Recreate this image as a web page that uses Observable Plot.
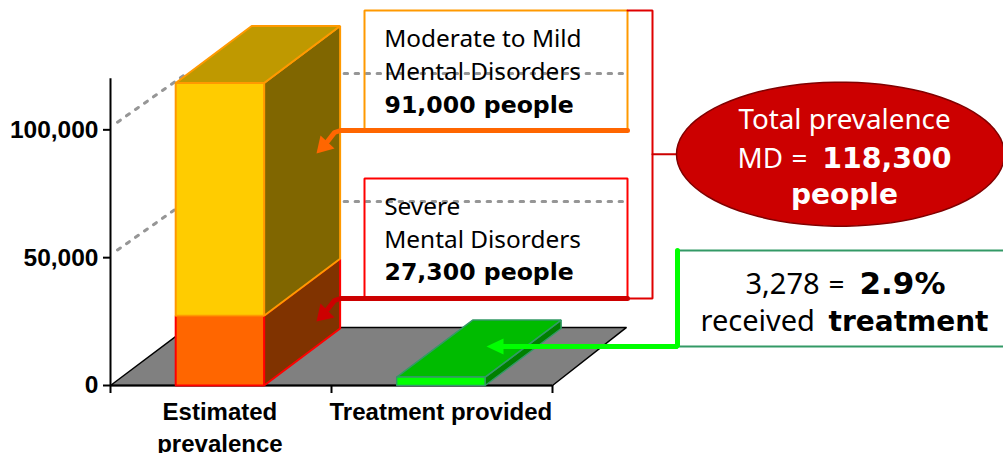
<!DOCTYPE html>
<html>
<head>
<meta charset="utf-8">
<script src="https://cdn.jsdelivr.net/npm/d3@7"></script>
<script src="https://cdn.jsdelivr.net/npm/@observablehq/plot@0.6"></script>
<style>html,body{margin:0;padding:0;background:#fff}svg{display:block}</style>
</head>
<body>
<div id="chart"></div>
<script>
const categories = ["Estimated\nprevalence", "Treatment provided"];
const severeValues = [27300, 0];
const moderateValues = [91000, 0];
const treatedValues = [0, 3278];
const yTicks = [0, 50000, 100000];
const gridValues = [50000, 100000];

const W = 1003, H = 453;
const BAR = 0.2, DX = 0.344, DY = 22300, SHIFT = -0.005;
const SANS = "'Noto Sans'", BOLD = "'DejaVu Sans'", AXIS = "'Liberation Sans'";

// annotation layout: page position -> chart units
const ux = d3.scaleLinear([110, 552], [-0.5, 1.5]);
const uy = d3.scaleLinear([385, 78.2], [0, 120000]);
const P = (px, py) => ({x: ux(px), y: uy(py)});
const path = (pts) => pts.map(([a, b]) => P(a, b));
const xy = {x: "x", y: "y"};

// prism faces
const front = (c, y0, y1) => [[c-BAR,y0],[c+BAR,y0],[c+BAR,y1],[c-BAR,y1]].map(([x,y]) => ({x,y}));
const side = (c, y0, y1) => [[c+BAR,y0],[c+BAR+DX,y0+DY],[c+BAR+DX,y1+DY],[c+BAR,y1]].map(([x,y]) => ({x,y}));
const top_ = (c, y1) => [[c-BAR,y1],[c+BAR,y1],[c+BAR+DX,y1+DY],[c-BAR+DX,y1+DY]].map(([x,y]) => ({x,y}));
const poly = (pts, fill, stroke, sw = 2) => Plot.line(pts, {...xy, fill, stroke, strokeWidth: sw, curve: "linear-closed", strokeLinejoin: "miter"});
const stroke = (pts, color, sw, extra = {}) => Plot.line(pts, {...xy, stroke: color, strokeWidth: sw, strokeLinejoin: "miter", ...extra});

const label = (text, px, py, size, family, opts = {}) => Plot.text([{...P(px, py), text}], {
  ...xy, text: "text", fontSize: size, fontFamily: family, lineAnchor: "bottom", textAnchor: "start", fill: "#000", ...opts
});

const s0 = severeValues[0], s1 = s0 + moderateValues[0], t = treatedValues[1];
const c0 = 0 + SHIFT, c1 = 1 + SHIFT;

const ellipse = d3.range(90).map(i => {
  const a = i / 90 * 2 * Math.PI;
  return P(840 + 164 * Math.cos(a), 153.7 + 72 * Math.sin(a));
});

const plot = Plot.plot({
  width: W, height: H,
  marginLeft: 110, marginRight: W - 552, marginTop: 78.2, marginBottom: H - 385,
  x: {domain: [-0.5, 1.5], axis: null},
  y: {domain: [0, 120000], axis: null},
  style: {background: "#fff", overflow: "visible"},
  marks: [
    // grid on the wall
    ...gridValues.map(v => stroke([{x: ux(117), y: v + 3000}, {x: -0.5 + DX, y: v + DY - 300}, {x: ux(622), y: v + DY - 300}], "#969696", 3, {strokeDasharray: "3.5 7.5"})),
    // floor
    poly([{x:-0.5,y:0},{x:1.5,y:0},{x:1.5+0.335,y:22700},{x:-0.5+0.35,y:22700}], "#808080", "#000", 1.5),
    // axes
    Plot.axisY({ticks: yTicks, tickFormat: d3.format(","), tickSize: 7, tickPadding: 5, label: null, fontSize: 24.5, fontFamily: AXIS, fontWeight: "bold", strokeWidth: 2, stroke: "#000"}),
    Plot.axisX({ticks: [-0.5, 0.5, 1.5], tickFormat: () => "", tickSize: 8, label: null, strokeWidth: 2}),
    Plot.ruleX([-0.5], {y1: 0, y2: 120000, stroke: "#000", strokeWidth: 2}),
    Plot.ruleY([0], {stroke: "#000", strokeWidth: 2}),
    Plot.text(categories, {x: (d, i) => i + SHIFT, y: 0, text: d => d, dy: 11, lineAnchor: "top", lineHeight: 1.36, fontSize: 24, fontFamily: AXIS, fontWeight: "bold", fill: "#000"}),
    // estimated prevalence prism
    poly(side(c0, 0, s0), "#803300", "#FF0000"),
    poly(side(c0, s0, s1), "#806600", "#FF9900"),
    poly(top_(c0, s1), "#BF9900", "#FF9900"),
    poly(front(c0, 0, s0), "#FF6600", "#FF0000"),
    poly(front(c0, s0, s1), "#FFCC00", "#FF9900"),
    // treatment prism
    poly(side(c1, 0, t), "#008000", "#339966", 1.5),
    poly(top_(c1, t), "#00BB00", "#339966", 1.5),
    poly(front(c1, 0, t), "#00FF00", "#339966", 1.5),
    // callout boxes
    stroke(path([[364,130],[364,10],[627,10],[627,130]]), "#FF9900", 2),
    stroke(path([[364,298],[364,178],[627,178],[627,298]]), "#FF0000", 2),
    stroke(path([[627,10],[652,10],[652,298],[627,298]]), "#E00000", 2),
    stroke(path([[652,153.7],[678,153.7]]), "#CC0000", 2),
    stroke(path([[1003,250],[678,250]]), "#339966", 2),
    stroke(path([[1003,346],[678,346]]), "#339966", 2),
    stroke(path([[627,130],[340,130],[334,132],[327,141]]), "#FF6600", 5),
    poly(path([[316,153],[320,135],[334,148]]), "#FF6600", "none", 0),
    stroke(path([[627,298],[340,298],[334,300],[327,309]]), "#CC0000", 5),
    poly(path([[316,321],[320,303],[334,317]]), "#CC0000", "none", 0),
    stroke(path([[677,250],[677,346],[500,346]]), "#00FF00", 5),
    poly(path([[486,346],[503,338],[503,354]]), "#00FF00", "none", 0),
    // total ellipse
    poly(ellipse, "#CC0000", "#800000", 1.5),
    // text
    label("Moderate to Mild", 383.7, 46, 24.4, SANS),
    label("Mental Disorders", 383.7, 79, 24.4, SANS),
    label("91,000 people", 384, 112, 23.6, BOLD, {fontWeight: "bold"}),
    label("Severe", 383.7, 214, 24.4, SANS),
    label("Mental Disorders", 383.7, 247, 24.4, SANS),
    label("27,300 people", 384, 279, 23.6, BOLD, {fontWeight: "bold"}),
    label("Total prevalence", 844, 128, 27.8, SANS, {fill: "#fff", textAnchor: "middle"}),
    label("MD", 737, 167, 27.8, SANS, {fill: "#fff"}),
    label("=", 807, 167, 27.8, SANS, {fill: "#fff", textAnchor: "end"}),
    label("118,300", 951, 167, 28.4, BOLD, {fill: "#fff", fontWeight: "bold", textAnchor: "end"}),
    label("people", 844, 203, 28, BOLD, {fill: "#fff", textAnchor: "middle", fontWeight: "bold"}),
    label("3,278", 745, 293, 29, SANS),
    label("=", 844, 293, 28, SANS, {textAnchor: "end"}),
    label("2.9%", 945, 293, 31, BOLD, {fontWeight: "bold", textAnchor: "end"}),
    label("received", 700, 330, 29, SANS),
    label("treatment", 988, 330, 28, BOLD, {fontWeight: "bold", textAnchor: "end"})
  ]
});
document.getElementById("chart").append(plot);
</script>
</body>
</html>
